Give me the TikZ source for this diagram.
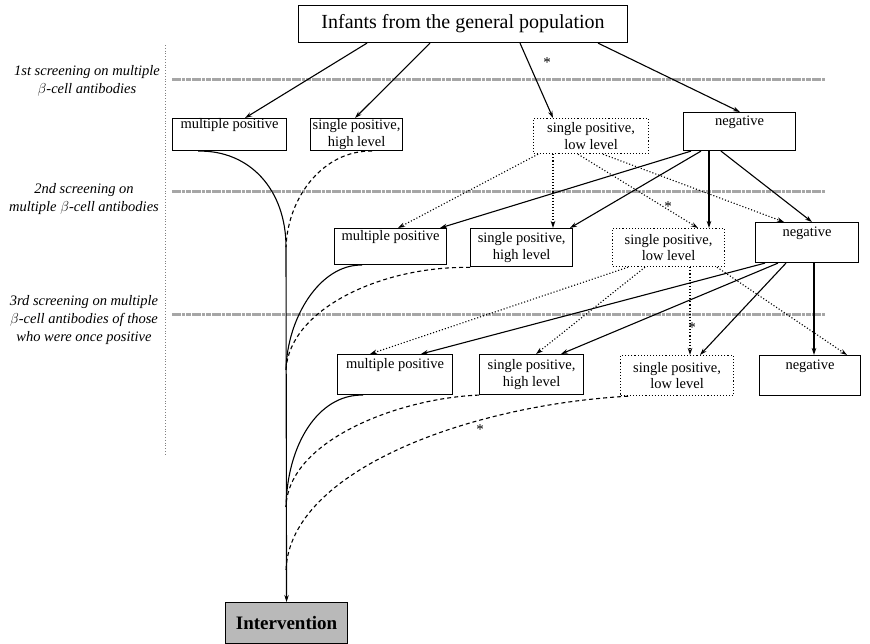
\documentclass[tikz,border=0pt]{standalone}
\usepackage{fontspec}
\setmainfont{Liberation Serif}
\usetikzlibrary{arrows.meta}

\tikzset{
  box/.style={draw, line width=1.1pt, inner sep=0pt, align=center, anchor=north west,
    font=\fontsize{14.5}{16.5}\selectfont},
  lowbox/.style={box, dotted, line width=1.2pt},
  hit/.style={-{Stealth[length=7pt,width=4.5pt]}, line width=1.1pt},
  weak/.style={hit, dotted},
  once/.style={line width=1.1pt, dash pattern=on 4pt off 3pt},
  screen/.style={line width=3pt, draw=gray!70, dash pattern=on 9pt off 1pt on 3pt off 1pt on 5pt off 1pt},
  lab/.style={align=center, font=\itshape\fontsize{14.5}{18}\selectfont},
  asterisk/.style={font=\fontsize{15}{15}\selectfont, inner sep=0pt}
}

\begin{document}
\begin{tikzpicture}[x=1pt,y=-1pt]
\useasboundingbox (0,0) rectangle (870,643);
% screening levels
\draw[gray, dotted, line width=0.8pt] (165,45) -- (165,455);
\draw[screen] (172,79) -- (825,79);
\draw[screen] (172,191) -- (825,191);
\draw[screen] (172,314) -- (825,314);
\node[lab] (lab1) at (87,81) {1st screening on multiple\\$\beta$-cell antibodies};
\node[lab] (lab2) at (84,199) {2nd screening on\\multiple $\beta$-cell antibodies};
\node[lab] (lab3) at (84,320) {3rd screening on multiple\\$\beta$-cell antibodies of those\\who were once positive};
% boxes
\node[box, minimum width=329pt, minimum height=37pt, font=\fontsize{20}{22}\selectfont] (top) at (298,5) {Infants from the general population};
\node[box, minimum width=114pt, minimum height=32pt] (mp1) at (172,118) {multiple positive\\\strut};
\node[box, minimum width=92pt, minimum height=32pt] (sh1) at (310,118) {single positive,\\high level};
\node[lowbox, minimum width=115pt, minimum height=35pt] (sl1) at (533,118) {single positive,\\low level};
\node[box, minimum width=112pt, minimum height=38pt] (neg1) at (683,112) {negative\\\strut};
\node[box, minimum width=112pt, minimum height=36pt] (mp2) at (334,228) {multiple positive\\\strut};
\node[box, minimum width=102pt, minimum height=38pt, line width=1.4pt] (sh2) at (470,228) {single positive,\\high level};
\node[lowbox, minimum width=112pt, minimum height=38pt] (sl2) at (612,228) {single positive,\\low level};
\node[box, minimum width=103pt, minimum height=40pt] (neg2) at (755,222) {negative\\\strut};
\node[box, minimum width=115pt, minimum height=40pt] (mp3) at (337,354) {multiple positive\\\strut};
\node[box, minimum width=104pt, minimum height=40pt] (sh3) at (479,354) {single positive,\\high level};
\node[lowbox, minimum width=113pt, minimum height=40pt] (sl3) at (620,355) {single positive,\\low level};
\node[box, minimum width=101pt, minimum height=40pt] (neg3) at (759,355) {negative\\\strut};
\node[box, minimum width=122pt, minimum height=41pt, fill=gray!55, font=\bfseries\fontsize{19}{22}\selectfont] (int) at (225,602) {Intervention};
% first screening
\draw[hit] ([xshift=69pt]top.south west) -- ([xshift=73pt]mp1.north west);
\draw[hit] ([xshift=132pt]top.south west) -- ([xshift=45pt]sh1.north west);
\draw[hit] ([xshift=222pt]top.south west) -- ([xshift=20pt]sl1.north west);
\draw[hit] ([xshift=300pt]top.south west) -- ([xshift=57pt]neg1.north west);
\node[asterisk] (s1) at (547,63) {*};
% second screening
\draw[weak] ([xshift=5pt]sl1.south west) -- ([xshift=64pt]mp2.north west);
\draw[weak] ([xshift=20pt]sl1.south west) -- ([xshift=83pt]sh2.north west);
\draw[weak] ([xshift=45pt]sl1.south west) -- ([xshift=86pt]sl2.north west);
\draw[weak] ([xshift=70pt]sl1.south west) -- ([xshift=29pt]neg2.north west);
\draw[hit] ([xshift=8pt]neg1.south west) -- ([xshift=106pt]mp2.north west);
\draw[hit] ([xshift=18pt]neg1.south west) -- ([xshift=100pt]sh2.north west);
\draw[hit] ([xshift=26pt]neg1.south west) -- ([xshift=97pt]sl2.north west);
\draw[hit] ([xshift=38pt]neg1.south west) -- ([xshift=57pt]neg2.north west);
\node[asterisk] (s2) at (668,207) {*};
% third screening
\draw[weak] ([xshift=16pt]sl2.south west) -- ([xshift=33pt]mp3.north west);
\draw[weak] ([xshift=33pt]sl2.south west) -- ([xshift=57pt]sh3.north west);
\draw[weak] ([xshift=78pt]sl2.south west) -- ([xshift=70pt]sl3.north west);
\draw[weak] ([xshift=105pt]sl2.south west) -- ([xshift=88pt]neg3.north west);
\draw[hit] ([xshift=10pt]neg2.south west) -- ([xshift=84pt]mp3.north west);
\draw[hit] ([xshift=23pt]neg2.south west) -- ([xshift=82pt]sh3.north west);
\draw[hit] ([xshift=31pt]neg2.south west) -- ([xshift=80pt]sl3.north west);
\draw[hit] ([xshift=59pt]neg2.south west) -- ([xshift=55pt]neg3.north west);
\node[asterisk] (s3) at (692,328) {*};
% to intervention
\coordinate (j1) at (286,247);
\coordinate (j2) at (286,370);
\coordinate (j3) at (286,507);
\coordinate (j4) at (286,570);
\draw[hit] (j1) -- (int.north);
\draw[line width=1.1pt] ([xshift=26pt]mp1.south west) .. controls (250,150) and (286,190) .. (j1);
\draw[once] ([xshift=62pt]sh1.south west) .. controls (325,150) and (288,195) .. (j1);
\draw[line width=1.1pt] ([xshift=28pt]mp2.south west) .. controls (320,264) and (287,318) .. (j2);
\draw[once] (sh2.south west) .. controls (380,266) and (289,310) .. (j2);
\draw[line width=1.1pt] ([xshift=26pt]mp3.south west) .. controls (318,394) and (287,445) .. (j3);
\draw[once] (sh3.south west) .. controls (400,398) and (288,440) .. (j3);
\draw[once] ([xshift=8pt]sl3.south west) .. controls (470,405) and (290,470) .. (j4);
\node[asterisk] (s4) at (480,430) {*};
\end{tikzpicture}
\end{document}
